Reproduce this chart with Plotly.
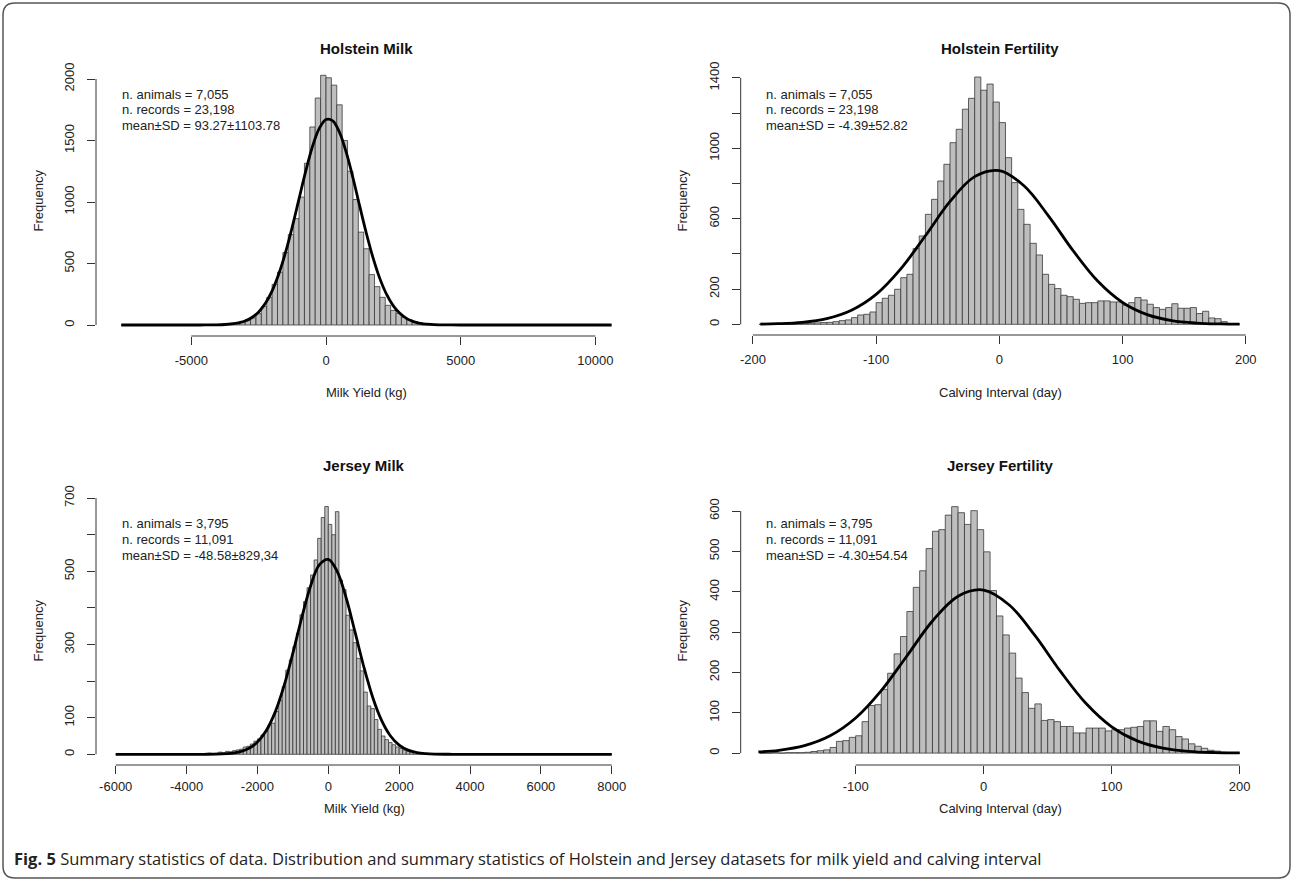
import plotly.graph_objects as go

W, H = 1293, 880

# ---------------- Holstein Milk ----------------
hm_bin_start = -7600
hm_bin_width = 200
hm_counts = [1, 0, 0, 0, 0, 1, 0, 0, 1, 0, 1, 1, 1, 2,
             2, 2, 3, 5, 7, 10, 14, 20, 30, 45, 58, 92, 150, 225, 330, 430, 590, 735, 865, 1040,
             1315, 1610, 1845, 2030,
             2010, 1950, 1790, 1500, 1250, 1020, 755, 620, 410, 312, 225, 160, 118, 95, 62, 42,
             28, 18, 12, 8, 5, 4, 3, 2, 2, 1, 1, 1, 1,
             0, 0, 0, 0, 0, 0, 0, 0, 0, 0, 0, 0, 0, 0, 0, 0, 0, 0, 0, 0, 0, 0, 0, 0]
hm_curve_x = [-7600, -5000, -4500, -4000, -3750, -3500, -3250, -3000, -2750, -2500, -2250, -2000,
              -1750, -1500, -1250, -1000, -750, -500, -250, 0, 250, 500, 750, 1000, 1250, 1500,
              1750, 2000, 2250, 2500, 2750, 3000, 3250, 3500, 3750, 4000, 4500, 5000, 10600]
hm_curve_y = [0, 0, 0.3, 1.7, 3.9, 8.4, 17, 33, 61, 106, 176, 278, 416, 592, 800, 1027, 1253,
              1452, 1598, 1671, 1660, 1567, 1405, 1197, 968, 744, 544, 377, 249, 156, 93, 52, 28,
              14, 7, 3, 0.6, 0.1, 0]
hm_xticks = [-5000, 0, 5000, 10000]
hm_xlabels = ["-5000", "0", "5000", "10000"]
hm_yticks = [0, 500, 1000, 1500, 2000]
hm_ylabels = ["0", "500", "1000", "1500", "2000"]
hm_stats = ["n. animals = 7,055", "n. records = 23,198", "mean±SD = 93.27±1103.78"]

# ---------------- Holstein Fertility ----------------
hf_bin_start = -195
hf_bin_width = 5
hf_counts = [0, 0, 0, 1, 1, 1, 2, 4, 6, 8, 10, 11, 15, 21, 25, 38, 53, 57, 70, 123, 148, 165,
             199, 265, 284, 430, 502, 625, 710, 814, 909, 1032, 1108, 1222, 1284, 1405, 1330,
             1365, 1263,
             1146, 947, 805, 653, 568, 460, 394, 284, 227, 203, 165, 157, 142, 119, 123, 123,
             133, 133, 127, 127, 108, 123, 152, 138, 114, 95, 85, 95, 117, 91, 91, 95, 61, 74,
             36, 32, 15, 4, 0]
hf_curve_x = [-194, -180, -160, -140, -120, -100, -80, -60, -40, -20, 0, 20, 40, 60, 80, 100,
              120, 140, 160, 180, 195]
hf_curve_y = [1.4, 3.5, 11.4, 32.5, 79.9, 170, 315, 503, 698, 839, 873, 787, 615, 417, 244,
              124, 54.8, 20.9, 6.9, 2.0, 0.7]
hf_xticks = [-200, -100, 0, 100, 200]
hf_xlabels = ["-200", "-100", "0", "100", "200"]
hf_yticks = [0, 200, 400, 600, 800, 1000, 1200, 1400]
hf_ylabels = ["0", "200", "", "600", "", "1000", "", "1400"]
hf_stats = ["n. animals = 7,055", "n. records = 23,198", "mean±SD = -4.39±52.82"]

# ---------------- Jersey Milk ----------------
jm_bin_start = -6000
jm_bin_width = 100
jm_counts = [0, 0, 0, 0, 0, 0, 1, 0, 0, 0, 0, 0, 1, 2, 1, 0, 0, 1, 0, 1, 0, 1, 2, 1, 1,
             1, 3, 2, 3, 6, 4, 8, 7, 10, 12, 14, 20, 22, 28, 36, 42, 53, 62, 80, 85, 117, 148,
             185, 230, 258, 294, 331, 381, 417, 455, 490, 531, 590, 647, 677,
             628, 600, 663, 476, 450, 380, 340, 305, 262, 228, 170, 132, 125, 95, 68, 50, 40, 32,
             26, 20, 16, 12, 9, 7, 5, 4, 3, 2, 1, 1, 0, 1, 0, 0, 1, 0, 0, 0, 0, 0, 0, 1, 1, 0,
             0, 0, 0, 0, 0, 0, 0, 0, 0, 0, 0, 0, 0, 0, 0, 0, 0, 0, 0, 0, 0, 0, 0, 0, 0, 0, 0, 0,
             0, 0, 0, 0, 0, 0, 0, 0]
jm_curve_x = [-6000, -4000, -3500, -3000, -2750, -2500, -2250, -2000, -1750, -1500, -1250, -1000,
              -750, -500, -250, 0, 250, 500, 750, 1000, 1250, 1500, 1750, 2000, 2250, 2500, 2750,
              3000, 3500, 4000, 8000]
jm_curve_y = [0, 0, 0.1, 0.95, 2.7, 6.8, 15.7, 33.5, 65.0, 115.3, 186.8, 276.3, 373.1, 460.0,
              518.0, 532.6, 500.0, 428.6, 335.6, 239.9, 156.6, 93.3, 50.8, 25.2, 11.5, 4.7, 1.8,
              0.6, 0.06, 0, 0]
jm_xticks = [-6000, -4000, -2000, 0, 2000, 4000, 6000, 8000]
jm_xlabels = ["-6000", "-4000", "-2000", "0", "2000", "4000", "6000", "8000"]
jm_yticks = [0, 100, 200, 300, 400, 500, 600, 700]
jm_ylabels = ["0", "100", "", "300", "", "500", "", "700"]
jm_stats = ["n. animals = 3,795", "n. records = 11,091", "mean±SD = -48.58±829,34"]

# ---------------- Jersey Fertility ----------------
jf_bin_start = -175
jf_bin_width = 5
jf_counts = [0, 0, 1, 0, 1, 1, 1, 2, 4, 6, 8, 14, 29, 31, 39, 43, 78, 118, 120, 158, 198, 246,
             289, 351, 411, 452, 507, 550, 554, 590, 611, 596, 567, 601, 554,
             499, 403, 340, 293, 248, 186, 150, 111, 122, 81, 83, 78, 66, 66, 50, 50, 62, 62, 62,
             55, 58, 58, 62, 64, 66, 80, 80, 54, 66, 58, 41, 35, 23, 17, 12, 7, 5, 2, 1, 0]
jf_curve_x = [-176, -160, -140, -120, -100, -80, -60, -40, -20, 0, 20, 40, 60, 80, 100, 120,
              140, 160, 180, 200]
jf_curve_y = [2.9, 6.9, 18.4, 42.8, 87.0, 154.8, 240.8, 327.4, 389.1, 404.3, 367.3, 291.6,
              202.4, 122.8, 65.1, 30.2, 12.2, 4.3, 1.3, 0.4]
jf_xticks = [-100, 0, 100, 200]
jf_xlabels = ["-100", "0", "100", "200"]
jf_yticks = [0, 100, 200, 300, 400, 500, 600]
jf_ylabels = ["0", "100", "200", "300", "400", "500", "600"]
jf_stats = ["n. animals = 3,795", "n. records = 11,091", "mean±SD = -4.30±54.54"]

caption = ("<b>Fig. 5</b> Summary statistics of data. Distribution and summary statistics of "
           "Holstein and Jersey datasets for milk yield and calving interval")

# ---------------- layout (pixel geometry) ----------------
panels = [
    dict(title="Holstein Milk", xtitle="Milk Yield (kg)", box=(96, 636, 65, 336),
         xr=(-8538.5, 11508.3), yr=(-89.4, 2113.8), start=hm_bin_start, bw=hm_bin_width,
         counts=hm_counts, cx=hm_curve_x, cy=hm_curve_y, xt=hm_xticks, xl=hm_xlabels,
         yt=hm_yticks, yl=hm_ylabels, stats=hm_stats, title_y=48, xtitle_y=392,
         stats_x=120, stats_y=(94, 109.5, 125), ytitle_x=38, xstand=4),
    dict(title="Holstein Fertility", xtitle="Calving Interval (day)", box=(740.7, 1259.3, 66, 335),
         xr=(-209.9, 211.0), yr=(-60.8, 1467.6), start=hf_bin_start, bw=hf_bin_width,
         counts=hf_counts, cx=hf_curve_x, cy=hf_curve_y, xt=hf_xticks, xl=hf_xlabels,
         yt=hf_yticks, yl=hf_ylabels, stats=hf_stats, title_y=48, xtitle_y=392,
         stats_x=763.5, stats_y=(94, 109.5, 125), ytitle_x=682, xstand=4),
    dict(title="Jersey Milk", xtitle="Milk Yield (kg)", box=(96, 632, 496, 765),
         xr=(-6556.6, 8571.8), yr=(-29.2, 705.7), start=jm_bin_start, bw=jm_bin_width,
         counts=jm_counts, cx=jm_curve_x, cy=jm_curve_y, xt=jm_xticks, xl=jm_xlabels,
         yt=jm_yticks, yl=jm_ylabels, stats=jm_stats, title_y=465, xtitle_y=808,
         stats_x=120, stats_y=(523, 539, 555), ytitle_x=38, xstand=1),
    dict(title="Jersey Fertility", xtitle="Calving Interval (day)", box=(740.7, 1259.3, 496, 765),
         xr=(-189.8, 215.3), yr=(-29.5, 637.4), start=jf_bin_start, bw=jf_bin_width,
         counts=jf_counts, cx=jf_curve_x, cy=jf_curve_y, xt=jf_xticks, xl=jf_xlabels,
         yt=jf_yticks, yl=jf_ylabels, stats=jf_stats, title_y=465, xtitle_y=808,
         stats_x=763.5, stats_y=(523, 539, 555), ytitle_x=682, xstand=1),
]

FONT = "Liberation Sans, Arial, Helvetica, sans-serif"
AX = "#333333"


def fx(px):
    return px / W


def fy(py):
    return 1 - py / H


fig = go.Figure()
layout = dict(width=W, height=H, autosize=False,
              margin=dict(l=0, r=0, t=0, b=0, pad=0, autoexpand=False),
              paper_bgcolor="white", plot_bgcolor="white", showlegend=False,
              annotations=[], shapes=[])

for i, p in enumerate(panels, start=1):
    sfx = "" if i == 1 else str(i)
    xa, ya = "x" + sfx, "y" + sfx
    left, right, top, bottom = p["box"]
    centers = [p["start"] + p["bw"] * (k + 0.5) for k in range(len(p["counts"]))]
    fig.add_trace(go.Bar(x=centers, y=p["counts"], width=p["bw"], xaxis=xa, yaxis=ya,
                         marker=dict(color="#BEBEBE", line=dict(color="#3a3a3a", width=0.8)),
                         hoverinfo="skip"))
    fig.add_trace(go.Scatter(x=p["cx"], y=p["cy"], mode="lines", xaxis=xa, yaxis=ya,
                             line=dict(color="black", width=2.8, shape="spline", smoothing=1.0),
                             hoverinfo="skip"))
    layout["xaxis" + sfx] = dict(
        domain=[fx(left), fx(right)], range=list(p["xr"]), anchor=ya,
        tickmode="array", tickvals=p["xt"], ticktext=p["xl"], ticks="outside", ticklen=8,
        tickwidth=1, tickcolor=AX, showline=False, showgrid=False, zeroline=False,
        tickfont=dict(family=FONT, size=13, color="#222"), ticklabelstandoff=p["xstand"],
        automargin=False, fixedrange=True)
    layout["yaxis" + sfx] = dict(
        domain=[fy(bottom), fy(top)], range=list(p["yr"]), anchor=xa,
        tickmode="array", tickvals=p["yt"], ticktext=p["yl"], ticks="outside", ticklen=8,
        tickwidth=1, tickcolor=AX, showline=False, showgrid=False, zeroline=False,
        tickangle=-90, tickfont=dict(family=FONT, size=13, color="#222"),
        ticklabelstandoff=8, automargin=False, fixedrange=True)
    # R-style axis lines spanning first..last tick
    layout["shapes"].append(dict(type="line", xref=xa, yref=ya + " domain",
                                 x0=p["xt"][0], x1=p["xt"][-1], y0=0, y1=0,
                                 line=dict(color=AX, width=1)))
    layout["shapes"].append(dict(type="line", xref=xa + " domain", yref=ya,
                                 x0=0, x1=0, y0=p["yt"][0], y1=p["yt"][-1],
                                 line=dict(color=AX, width=1)))
    # panel title
    layout["annotations"].append(dict(
        text="<b>" + p["title"] + "</b>", xref="paper", yref="paper",
        x=fx((left + right) / 2), y=fy(p["title_y"]), xanchor="center", yanchor="middle",
        showarrow=False, font=dict(family=FONT, size=15, color="#111")))
    # x axis title
    layout["annotations"].append(dict(
        text=p["xtitle"], xref="paper", yref="paper",
        x=fx((left + right) / 2), y=fy(p["xtitle_y"]), xanchor="center", yanchor="middle",
        showarrow=False, font=dict(family=FONT, size=13, color="#222")))
    # y axis title
    layout["annotations"].append(dict(
        text="Frequency", xref="paper", yref="paper", textangle=-90,
        x=fx(p["ytitle_x"]), y=fy((top + bottom) / 2), xanchor="center", yanchor="middle",
        showarrow=False, font=dict(family=FONT, size=13, color="#222")))
    # stats text
    for line, ly in zip(p["stats"], p["stats_y"]):
        layout["annotations"].append(dict(
            text=line, xref="paper", yref="paper", x=fx(p["stats_x"]), y=fy(ly),
            xanchor="left", yanchor="middle", showarrow=False,
            font=dict(family=FONT, size=13, color="#222")))

# caption
layout["annotations"].append(dict(
    text=caption, xref="paper", yref="paper", x=fx(12), y=fy(858), xanchor="left",
    yanchor="middle", showarrow=False,
    font=dict(family="Open Sans, Noto Sans, sans-serif", size=16.5, color="#222")))

# outer rounded frame
r = 12
x0, x1, y0, y1 = 3, 1290, 3, 878
path = (f"M {fx(x0)},{fy(y1 - r)} L {fx(x0)},{fy(y0 + r)} Q {fx(x0)},{fy(y0)} {fx(x0 + r)},{fy(y0)} "
        f"L {fx(x1 - r)},{fy(y0)} Q {fx(x1)},{fy(y0)} {fx(x1)},{fy(y0 + r)} "
        f"L {fx(x1)},{fy(y1 - r)} Q {fx(x1)},{fy(y1)} {fx(x1 - r)},{fy(y1)} "
        f"L {fx(x0 + r)},{fy(y1)} Q {fx(x0)},{fy(y1)} {fx(x0)},{fy(y1 - r)} Z")
layout["shapes"].append(dict(type="path", xref="paper", yref="paper", path=path,
                             line=dict(color="#555555", width=1.5), fillcolor="rgba(0,0,0,0)",
                             layer="above"))

fig.update_layout(**layout)
fig.write_html("out.html", config={"displayModeBar": False, "staticPlot": True},
               post_script="document.body.style.margin='0';document.body.style.overflow='hidden';")
